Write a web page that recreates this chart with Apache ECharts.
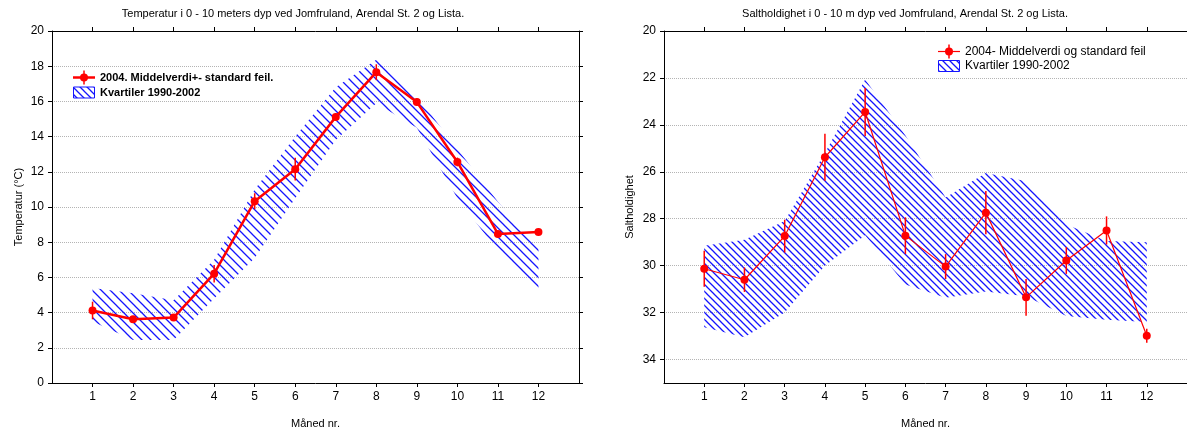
<!DOCTYPE html>
<html>
<head>
<meta charset="utf-8">
<script src="https://cdn.jsdelivr.net/npm/echarts@6/dist/echarts.min.js"></script>
<style>
html, body { margin: 0; padding: 0; background: #fff; }
#c { width: 1187px; height: 434px; }
</style>
</head>
<body>
<div id="c"></div>
<script>
// Monthly values, 0-10 m depth (Jomfruland, Arendal St. 2, Lista)
const months = [1, 2, 3, 4, 5, 6, 7, 8, 9, 10, 11, 12];

// Temperature (°C): 2004 mean, standard error, 1990-2002 quartiles
const tempMean = [4.12, 3.62, 3.72, 6.21, 10.33, 12.15, 15.12, 17.66, 15.96, 12.56, 8.47, 8.58];
const tempErr  = [0.5, 0.1, 0.1, 0.5, 0.45, 0.65, 0.2, 0.45, 0.2, 0.25, 0.15, 0.15];
const tempQ1   = [3.5, 2.45, 2.45, 4.8, 7.1, 10.5, 13.8, 15.9, 14.5, 10.5, 7.5, 5.25];
const tempQ3   = [5.4, 5.1, 4.7, 7.0, 11.0, 14.0, 16.8, 18.36, 16.3, 13.3, 10.3, 7.7];
const tempTicks = [0, 2, 4, 6, 8, 10, 12, 14, 16, 18, 20];

// Salinity: 2004 mean, standard error, 1990-2002 quartiles
const salMean = [30.13, 30.6, 28.74, 25.38, 23.45, 28.72, 30.04, 27.74, 31.35, 29.78, 28.5, 32.99];
const salErr  = [0.77, 0.52, 0.7, 1.0, 1.02, 0.78, 0.53, 0.92, 0.78, 0.57, 0.6, 0.3];
const salQ1   = [29.15, 28.9, 28.1, 25.2, 22.07, 24.45, 27.1, 26.05, 26.4, 28.25, 28.95, 29.0];
const salQ3   = [32.62, 33.05, 32.0, 30.0, 28.7, 30.8, 31.37, 31.1, 31.3, 32.15, 32.3, 32.4];
const salTicks = [20, 22, 24, 26, 28, 30, 32, 34];

const FONT = '"Liberation Sans", Arial, Helvetica, sans-serif';
const RED = '#ff0000';
const BLUE = '#1414ff';

// Diagonal "\" hatch tile used as a repeating fill
function hatch(gap, width) {
  const c = document.createElement('canvas');
  c.width = gap; c.height = gap;
  const g = c.getContext('2d');
  g.strokeStyle = BLUE;
  g.lineWidth = width;
  g.beginPath();
  g.moveTo(-1, -1); g.lineTo(gap + 1, gap + 1);
  g.moveTo(gap - 1, -1); g.lineTo(gap + 1, 1);
  g.moveTo(-1, gap - 1); g.lineTo(1, gap + 1);
  g.stroke();
  return { image: c, repeat: 'repeat' };
}
const hatchTemp = hatch(9, 1.3);
const hatchSal = hatch(7, 1.3);

function axisPair(gridIndex, opts) {
  const base = {
    type: 'value', gridIndex: gridIndex,
    axisLine: { show: true, onZero: false, lineStyle: { color: '#000', width: 1 } },
    axisTick: { show: true, inside: false, length: 4, lineStyle: { color: '#000' } },
    splitLine: { show: false }
  };
  return Object.assign(base, opts);
}

function xAxes(gridIndex) {
  return [
    axisPair(gridIndex, {
      position: 'bottom', min: 0, max: 13,
      axisTick: { show: true, length: 4, lineStyle: { color: '#000' }, customValues: months },
      axisLabel: { customValues: months, color: '#000', fontSize: 12, fontFamily: FONT, margin: 8 },
      name: 'Måned nr.', nameLocation: 'middle', nameGap: 35,
      nameTextStyle: { color: '#000', fontSize: 11, fontFamily: FONT }
    }),
    axisPair(gridIndex, {
      position: 'top', min: 0, max: 13,
      axisTick: { show: true, length: 4, lineStyle: { color: '#000' }, customValues: months },
      axisLabel: { show: false }
    })
  ];
}

function yAxes(gridIndex, min, max, ticks, inverse, name, gap) {
  return [
    axisPair(gridIndex, {
      position: 'left', min: min, max: max, inverse: inverse,
      axisTick: { show: true, length: 4, lineStyle: { color: '#000' }, customValues: ticks },
      axisLabel: { customValues: ticks, color: '#000', fontSize: 12, fontFamily: FONT, margin: 8 },
      splitLine: { show: true, lineStyle: { color: '#b4b4b4', type: 'dotted', width: 1 } },
      name: name, nameLocation: 'middle', nameGap: gap,
      nameTextStyle: { color: '#000', fontSize: 11, fontFamily: FONT }
    }),
    axisPair(gridIndex, {
      position: 'right', min: min, max: max, inverse: inverse,
      axisTick: { show: true, length: 4, lineStyle: { color: '#000' }, customValues: ticks },
      axisLabel: { show: false }
    })
  ];
}

// Quartile band: one polygon through the upper and lower quartiles
function bandSeries(xi, yi, lo, hi, pattern) {
  return {
    type: 'custom', xAxisIndex: xi, yAxisIndex: yi, z: 1, silent: true,
    data: months.map((m, i) => [m, lo[i], hi[i]]),
    encode: { x: 0, y: [1, 2] },
    renderItem: function (params, api) {
      if (params.dataIndex !== 0) return null;
      const top = months.map((m, i) => api.coord([m, hi[i]]));
      const bottom = months.map((m, i) => api.coord([m, lo[i]])).reverse();
      return {
        type: 'polygon',
        shape: { points: top.concat(bottom) },
        style: { fill: pattern, stroke: null }
      };
    }
  };
}

// Vertical error bars: mean ± standard error
function errorSeries(xi, yi, mean, err, width) {
  return {
    type: 'custom', xAxisIndex: xi, yAxisIndex: yi, z: 3, silent: true,
    data: months.map((m, i) => [m, mean[i] - err[i], mean[i] + err[i]]),
    encode: { x: 0, y: [1, 2] },
    renderItem: function (params, api) {
      const a = api.coord([api.value(0), api.value(1)]);
      const b = api.coord([api.value(0), api.value(2)]);
      return {
        type: 'line',
        shape: { x1: a[0], y1: a[1], x2: b[0], y2: b[1] },
        style: { stroke: RED, lineWidth: width }
      };
    }
  };
}

function meanSeries(xi, yi, mean, width) {
  return {
    type: 'line', xAxisIndex: xi, yAxisIndex: yi, z: 4, silent: true,
    data: months.map((m, i) => [m, mean[i]]),
    symbol: 'circle', symbolSize: 8, showSymbol: true,
    itemStyle: { color: RED, borderWidth: 0 },
    lineStyle: { color: RED, width: width }
  };
}

// Legend rows drawn as graphic elements
function legend(x, y1, y2, text1, text2, bold, lineW, fontSize) {
  const tStyle = (t, y) => ({
    type: 'text', x: x + 27, y: y,
    style: { text: t, fill: '#000', font: (bold ? 'bold ' : '') + fontSize + 'px ' + FONT,
             verticalAlign: 'middle', align: 'left' }
  });
  return [
    { type: 'line', shape: { x1: x, y1: y1, x2: x + 22, y2: y1 }, style: { stroke: RED, lineWidth: lineW } },
    { type: 'line', shape: { x1: x + 11, y1: y1 - 7, x2: x + 11, y2: y1 + 7 }, style: { stroke: RED, lineWidth: 1.5 } },
    { type: 'circle', shape: { cx: x + 11, cy: y1, r: 4 }, style: { fill: RED } },
    tStyle(text1, y1),
    { type: 'rect', shape: { x: x + 0.5, y: y2 - 5.5, width: 21, height: 11 },
      style: { fill: hatchSal, stroke: BLUE, lineWidth: 1 } },
    tStyle(text2, y2)
  ];
}

const chart = echarts.init(document.getElementById('c'), null, { renderer: 'canvas' });
chart.setOption({
  animation: false,
  backgroundColor: '#fff',
  title: [
    { text: 'Temperatur i 0 - 10 meters dyp ved Jomfruland, Arendal St. 2 og Lista.',
      left: 293, top: 8, textAlign: 'center', padding: 0,
      textStyle: { color: '#000', fontSize: 11, fontWeight: 'normal', fontFamily: FONT } },
    { text: 'Saltholdighet i 0 - 10 m dyp ved Jomfruland, Arendal St. 2 og Lista.',
      left: 905, top: 8, textAlign: 'center', padding: 0,
      textStyle: { color: '#000', fontSize: 11, fontWeight: 'normal', fontFamily: FONT } }
  ],
  grid: [
    { left: 52, top: 31, width: 527, height: 354 },
    { left: 664, top: 31, width: 528, height: 355 }
  ],
  xAxis: xAxes(0).concat(xAxes(1)),
  yAxis: yAxes(0, 0, 20, tempTicks, false, 'Temperatur (°C)', 28)
    .concat(yAxes(1, 20, 35, salTicks, true, 'Saltholdighet', 29)),
  series: [
    bandSeries(0, 0, tempQ1, tempQ3, hatchTemp),
    errorSeries(0, 0, tempMean, tempErr, 1.5),
    meanSeries(0, 0, tempMean, 2.5),
    bandSeries(2, 2, salQ1, salQ3, hatchSal),
    errorSeries(2, 2, salMean, salErr, 1.5),
    meanSeries(2, 2, salMean, 1.2)
  ],
  graphic: legend(73, 77.5, 92.5, '2004. Middelverdi+- standard feil.', 'Kvartiler 1990-2002', true, 2.5, 11)
    .concat(legend(938, 51.5, 66, '2004- Middelverdi og standard feil', 'Kvartiler 1990-2002', false, 1.2, 12))
});
</script>
</body>
</html>
